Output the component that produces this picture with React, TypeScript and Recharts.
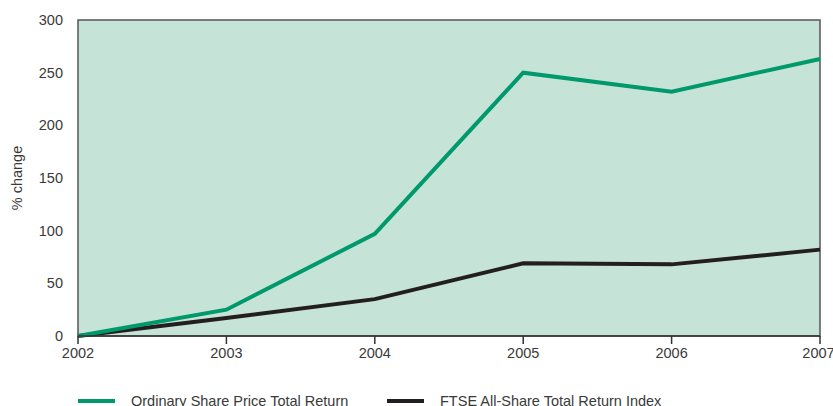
import { LineChart, Line, XAxis, YAxis, ReferenceArea } from "recharts";

const years = [2002, 2003, 2004, 2005, 2006, 2007];
const sharePrice = [0, 25, 97, 250, 232, 263];
const ftseIndex = [0, 17, 35, 69, 68, 82];
const yTicks = [0, 50, 100, 150, 200, 250, 300];

const seriesNames = ["Ordinary Share Price Total Return", "FTSE All-Share Total Return Index"];
const seriesColors = ["#00996b", "#231f20"];

const data = years.map((year, i) => ({
  year,
  share: sharePrice[i],
  ftse: ftseIndex[i],
}));

const font = "'Liberation Sans', Arial, sans-serif";
const tickStyle = { fontSize: 14.5, fill: "#3a3a3a", fontFamily: font };

export default function App() {
  return (
    <div
      style={{
        position: "absolute",
        left: 0,
        top: 0,
        width: 833,
        height: 406,
        overflow: "hidden",
        background: "#fff",
        fontFamily: font,
      }}
    >
      <LineChart
        width={833}
        height={406}
        data={data}
        margin={{ top: 20, right: 13, bottom: 40, left: 0 }}
      >
        <ReferenceArea
          x1={2002}
          x2={2007}
          y1={0}
          y2={300}
          fill="#c6e3d7"
          fillOpacity={1}
          stroke="#555"
          strokeWidth={1.5}
        />
        <XAxis
          dataKey="year"
          type="number"
          domain={[2002, 2007]}
          ticks={years}
          height={30}
          tick={tickStyle}
          tickSize={8}
          tickMargin={4}
          axisLine={{ stroke: "#333", strokeWidth: 1.5 }}
          tickLine={{ stroke: "#333", strokeWidth: 1.5 }}
        />
        <YAxis
          type="number"
          domain={[0, 300]}
          ticks={yTicks}
          width={78}
          tick={tickStyle}
          axisLine={false}
          tickLine={false}
          tickMargin={9}
          label={{
            value: "% change",
            angle: -90,
            position: "insideLeft",
            offset: 17,
            style: { textAnchor: "middle", fontSize: 14.5, fill: "#3a3a3a", fontFamily: font },
          }}
        />
        <Line
          dataKey="ftse"
          name={seriesNames[1]}
          stroke={seriesColors[1]}
          strokeWidth={4}
          dot={false}
          isAnimationActive={false}
        />
        <Line
          dataKey="share"
          name={seriesNames[0]}
          stroke={seriesColors[0]}
          strokeWidth={4}
          dot={false}
          isAnimationActive={false}
        />
      </LineChart>
      <div
        style={{
          position: "absolute",
          top: 393,
          left: 78,
          display: "flex",
          fontSize: 14.5,
          color: "#3a3a3a",
          whiteSpace: "nowrap",
        }}
      >
        {seriesNames.map((name, i) => (
          <div
            key={name}
            style={{ display: "flex", alignItems: "center", width: i === 0 ? 309 : "auto" }}
          >
            <span
              style={{
                display: "inline-block",
                width: 37,
                height: 4,
                background: seriesColors[i],
                marginRight: 16,
              }}
            />
            <span>{name}</span>
          </div>
        ))}
      </div>
    </div>
  );
}
